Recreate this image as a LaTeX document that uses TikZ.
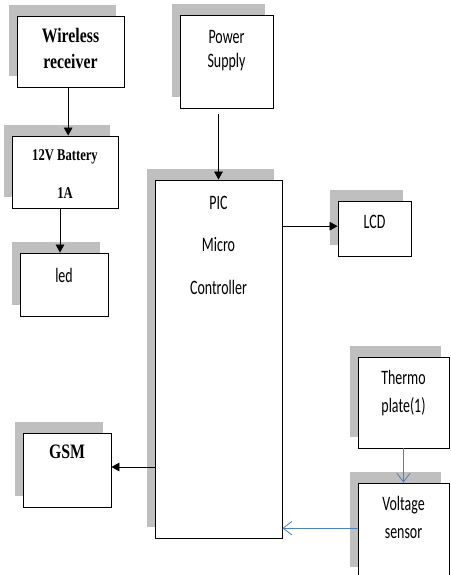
\documentclass[tikz,border=0pt]{standalone}
\usepackage{fontspec}
\newfontfamily\serifnarrow[FakeStretch=0.77]{Liberation Serif}
\newfontfamily\sansnarrow[FakeStretch=0.68]{Carlito}
\usetikzlibrary{positioning,arrows.meta,shadows}
\definecolor{officeblue}{RGB}{79,129,189}

\begin{document}
\begin{tikzpicture}[
  x=0.03cm, y=-0.03cm,
  box/.style={rectangle, draw, line width=0.8pt, fill=white,
    drop shadow={shadow xshift=-0.24cm, shadow yshift=0.32cm, fill=black!25, opacity=1}},
  sertxt/.style={inner sep=0pt, align=center, font=\serifnarrow\bfseries\fontsize{17.5}{22}\selectfont},
  santxt/.style={inner sep=0pt, align=center, font=\sansnarrow\fontsize{17.5}{21}\selectfont},
  arrow/.style={-{Triangle[length=2.4mm, width=2.6mm]}, line width=0.7pt},
  bluearrow/.style={-{Straight Barb[length=2.6mm, width=4mm]}, officeblue, line width=0.7pt},
]

\clip (0,0) rectangle (451,575);
\fill[white] (0,0) rectangle (451,575);

% === left column ===
\node[box, minimum width=3.21cm, minimum height=2.13cm] (wrx) at (70.5,51.5) {};
\node[sertxt, below=0.38cm of wrx.north] (wrxtxt) {Wireless\\receiver};

\node[box, minimum width=3.18cm, minimum height=2.16cm] (bat) at (65,172) {};
\node[sertxt, font=\serifnarrow\bfseries\fontsize{14}{32}\selectfont, below=0.42cm of bat.north] (battxt) {12V Battery\\1A};

\node[box, minimum width=2.64cm, minimum height=1.89cm] (led) at (64,284.5) {};
\node[santxt, below=0.46cm of led.north] (ledtxt) {led};

\node[box, minimum width=2.64cm, minimum height=2.22cm] (gsm) at (67,470) {};
\node[sertxt, below=0.36cm of gsm.north] (gsmtxt) {GSM};

% === middle column ===
\node[box, minimum width=2.79cm, minimum height=2.79cm] (pwr) at (226.5,61.5) {};
\node[santxt, below=0.46cm of pwr.north] (pwrtxt) {Power\\Supply};

\node[box, minimum width=3.81cm, minimum height=10.74cm] (pic) at (218.5,359) {};
\node[santxt, font=\sansnarrow\fontsize{17.5}{36.5}\selectfont, below=0.48cm of pic.north] (pictxt) {PIC\\Micro\\Controller};

% === right column ===
\node[box, minimum width=2.19cm, minimum height=1.65cm] (lcd) at (374.5,228.5) {};
\node[santxt, below=0.44cm of lcd.north] (lcdtxt) {LCD};

\node[box, minimum width=2.73cm, minimum height=2.73cm] (thm) at (403.5,402.5) {};
\node[santxt, font=\sansnarrow\fontsize{17.5}{24}\selectfont, below=0.40cm of thm.north] (thmtxt) {Thermo\\plate(1)};

\node[box, minimum width=2.73cm, minimum height=2.85cm] (vlt) at (403.5,530.5) {};
\node[santxt, font=\sansnarrow\fontsize{17.5}{24}\selectfont, below=0.40cm of vlt.north] (vlttxt) {Voltage\\sensor};

% === connectors ===
\draw[arrow] ([xshift=-0.07cm]wrx.south) -- ([xshift=-0.07cm]wrx.south |- bat.north);
\draw[arrow] ([xshift=-0.15cm]bat.south) -- ([xshift=-0.15cm]bat.south |- led.north);
\draw[arrow] ([yshift=-0.18cm]pic.north |- pwr.south) -- (pic.north);
\draw[arrow] ([yshift=0.07cm]pic.east |- lcd.west) -- ([yshift=0.07cm]lcd.west);
\draw[arrow] ([yshift=0.09cm]pic.west |- gsm.east) -- ([yshift=0.09cm]gsm.east);
\draw[bluearrow] (thm.south) -- (vlt.north);
\draw[bluearrow] ([yshift=0.07cm]vlt.west) -- ([yshift=0.07cm]vlt.west -| pic.east);

\end{tikzpicture}
\end{document}
